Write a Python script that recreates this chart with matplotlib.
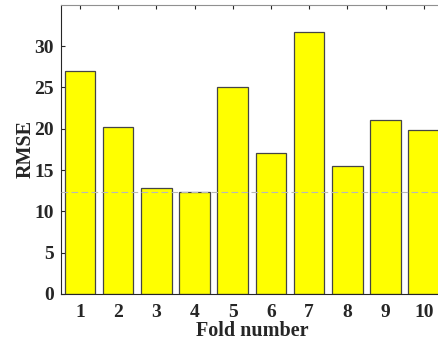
import numpy as np
import matplotlib
matplotlib.use("Agg")
import matplotlib.pyplot as plt

plt.rcParams['font.family'] = ['Liberation Serif', 'DejaVu Serif']
plt.rcParams['font.weight'] = 'bold'

folds = np.arange(1, 11)
rmse = [27.0, 20.2, 12.8, 12.4, 25.0, 17.1, 31.7, 15.5, 21.1, 19.8]
ref_line = min(rmse)
fold_labels = [str(i) for i in folds]

fig = plt.figure(figsize=(4.38, 3.52), dpi=100)
ax = fig.add_axes([0.139, 0.165, 0.872, 0.821])

ax.bar(folds, rmse, width=0.8, color='#ffff00', edgecolor='#454545', linewidth=0.9, zorder=2)
ax.axhline(ref_line, color='#b8b8b8', linestyle='--', linewidth=0.8, dashes=(6, 3), zorder=3)

ax.set_xlim(0.5, 10.5)
ax.set_ylim(0, 35)
ax.set_xticks(folds)
ax.set_xticklabels(fold_labels)
ax.set_yticks(np.arange(0, 31, 5))

ax.tick_params(direction='in', length=3, width=0.8, colors='#262626', labelsize=14,
               top=True, right=True)
ax.tick_params(axis='x', pad=7)
ax.tick_params(axis='y', pad=5)
for lab in ax.get_xticklabels() + ax.get_yticklabels():
    lab.set_fontweight('bold')

for side in ['left', 'bottom']:
    ax.spines[side].set_color('#262626')
ax.spines['top'].set_color('#909090')
ax.spines['right'].set_color('#909090')
for s in ax.spines.values():
    s.set_linewidth(0.8)

ax.set_xlabel('Fold number', fontsize=14.5, fontweight='bold', color='#262626', labelpad=0)
ax.set_ylabel('RMSE', fontsize=14.5, fontweight='bold', color='#262626', labelpad=-1)

fig.savefig('out.png', dpi=100)
